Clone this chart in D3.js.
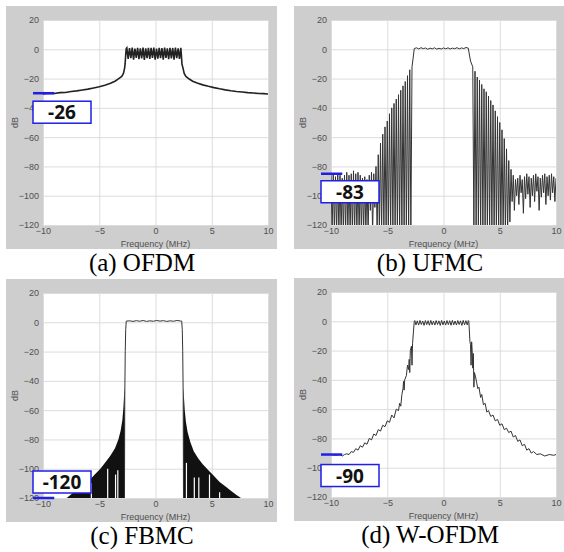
<!DOCTYPE html>
<html>
<head>
<meta charset="utf-8">
<script src="https://cdn.jsdelivr.net/npm/d3@7/dist/d3.min.js"></script>
<style>
body{margin:0;background:#fff;}
.axis text{font-family:Arial,"Liberation Sans",sans-serif;font-size:9px;fill:#505050;}
.axis .domain{display:none;}
.axis line{stroke:#dcdcdc;}
.lbl{font-family:Arial,"Liberation Sans",sans-serif;font-size:9px;fill:#505050;}
.cap{font-family:"Liberation Serif","Times New Roman",serif;font-size:25px;fill:#000;}
.mark{font-family:"Noto Sans","Open Sans",sans-serif;font-size:19px;font-weight:bold;fill:#111;}
</style>
</head>
<body>
<svg id="myGraph" width="564" height="552"></svg>
<script>
// axis ticks
var xTicks = [-10, -5, 0, 5, 10];
var yTicks = [20, 0, -20, -40, -60, -80, -100, -120];
var captions = ["(a) OFDM", "(b) UFMC", "(c) FBMC", "(d) W-OFDM"];
var markLabels = ["-26", "-83", "-120", "-90"];
var markLevels = [-30, -85, -120, -91];

// (a) OFDM spectrum [MHz, dB]
var ofdmSpec = [
	[-10,-30.5],[-9.5,-30],[-9,-30.2],[-8.5,-29.6],[-8,-29.5],[-7.5,-28.8],[-7,-28.4],[-6.5,-27.8],[-6,-27.2],[-5.5,-26.4],
	[-5,-25.6],[-4.5,-24.5],[-4,-23.2],[-3.6,-21.8],[-3.3,-20.2],[-3,-18.5],[-2.85,-16.5],[-2.75,-13],[-2.7,-10],[-2.65,-4],
	[-2.6,0.5],[-2.55,1],[-2.43,-6.5],[-2.31,0.8],[-2.19,-6],[-2.07,1.2],[-1.95,-7],[-1.83,0.5],[-1.71,-5.8],[-1.59,1],
	[-1.47,-6.8],[-1.35,0.7],[-1.23,-6.2],[-1.11,1.1],[-0.99,-7.2],[-0.87,0.6],[-0.75,-6],[-0.63,1],[-0.51,-6.6],[-0.39,0.9],
	[-0.27,-5.9],[-0.15,1.2],[-0.03,-7],[0.09,0.5],[0.21,-6.4],[0.33,1],[0.45,-6.1],[0.57,0.8],[0.69,-7.1],[0.81,1.1],
	[0.93,-5.8],[1.05,0.6],[1.17,-6.7],[1.29,1],[1.41,-6.2],[1.53,0.9],[1.65,-7],[1.77,1.2],[1.89,-6],[2.01,0.7],
	[2.13,-6.5],[2.25,1],[2.3,-4],[2.35,-10],[2.45,-13],[2.55,-16.5],[2.7,-18.5],[3,-20.3],[3.3,-21.8],[3.7,-23],
	[4.2,-24.3],[4.7,-25.3],[5.2,-26.2],[5.7,-27],[6.2,-27.7],[6.7,-28.3],[7.2,-28.8],[7.7,-29.2],[8.2,-29.6],[8.7,-29.9],
	[9.2,-30.2],[9.6,-30.3],[10,-30.5]
];

// (b) UFMC: lobe peaks and nulls
var ufmcPeaks = [
	[-10,-86],[-9.8,-85],[-9.6,-87],[-9.4,-85],[-9.2,-86],[-9,-88],[-8.8,-86],[-8.6,-84],[-8.4,-86],[-8.2,-85],
	[-8,-83],[-7.8,-85],[-7.6,-84],[-7.4,-86],[-7.2,-88],[-7,-87],[-6.8,-89],[-6.6,-86],[-6.4,-84],[-6.2,-85],
	[-6,-80],[-5.8,-72],[-5.6,-64],[-5.4,-58],[-5.2,-53],[-5,-49],[-4.8,-44],[-4.6,-40],[-4.4,-37],[-4.2,-34],
	[-4,-31],[-3.8,-28],[-3.6,-25],[-3.4,-22],[-3.2,-18],[-3,-14],[-2.8,-12],[-2.7,-6],
	[-2.6,0.5],[-2.4,1],[-2.2,0.2],[-2,1.1],[-1.8,0.4],[-1.6,0.9],[-1.4,0],[-1.2,0.8],[-1,0.3],[-0.8,1],
	[-0.6,0.1],[-0.4,0.7],[-0.2,0.2],[0,0.9],[0.2,0.3],[0.4,1],[0.6,0.2],[0.8,0.8],[1,0.4],[1.2,1.1],
	[1.4,0.3],[1.6,0.9],[1.8,0.5],[2,1.2],[2.2,0.8],[2.4,-8],[2.6,-12],[2.8,-15],[3,-19],[3.2,-21],
	[3.4,-24],[3.6,-27],[3.8,-29],[4,-32],[4.2,-35],[4.4,-38],[4.6,-42],[4.8,-46],[5,-50],[5.2,-55],
	[5.4,-61],[5.6,-68],[5.8,-76],[6,-82],[6.2,-86],[6.4,-89],[6.6,-88],[6.8,-86],[7,-89],[7.2,-87],
	[7.4,-85],[7.6,-87],[7.8,-88],[8,-86],[8.2,-85],[8.4,-87],[8.6,-88],[8.8,-86],[9,-85],[9.2,-87],
	[9.4,-86],[9.6,-85],[9.8,-87],[10,-88]
];
var ufmcNulls = [
	[-9.9,-125],[-9.7,-125],[-9.5,-125],[-9.3,-125],[-9.1,-125],[-8.9,-125],[-8.7,-125],[-8.5,-125],[-8.3,-125],[-8.1,-125],
	[-7.9,-125],[-7.7,-125],[-7.5,-125],[-7.3,-125],[-7.1,-125],[-6.9,-125],[-6.7,-125],[-6.5,-110],[-6.3,-125],[-6.1,-108],
	[-5.9,-125],[-5.7,-125],[-5.5,-125],[-5.3,-125],[-5.1,-125],[-4.9,-125],[-4.7,-125],[-4.5,-125],[-4.3,-125],[-4.1,-125],
	[-3.9,-125],[-3.7,-125],[-3.5,-125],[-3.3,-125],[-3.1,-125],[-2.9,-125],
	[2.7,-125],[2.9,-125],[3.1,-125],[3.3,-125],[3.5,-125],[3.7,-125],[3.9,-125],[4.1,-125],[4.3,-125],[4.5,-125],
	[4.7,-125],[4.9,-125],[5.1,-125],[5.3,-125],[5.5,-125],[5.7,-125],[5.9,-118],[6.1,-104],[6.3,-110],[6.5,-100],
	[6.7,-106],[6.9,-98],[7.1,-112],[7.3,-102],[7.5,-99],[7.7,-108],[7.9,-100],[8.1,-104],[8.3,-97],[8.5,-110],
	[8.7,-101],[8.9,-98],[9.1,-106],[9.3,-100],[9.5,-103],[9.7,-98],[9.9,-104]
];

// (c) FBMC: main lobe and dense side lobe envelopes
var fbmcMain = [
	[-2.76,-125],[-2.73,-50],[-2.69,-20],[-2.65,-5],[-2.6,0.8],[-2.3,1],[-2,0.6],[-1.7,1.1],[-1.4,0.7],[-1.1,1.2],
	[-0.8,0.6],[-0.5,1],[-0.2,0.7],[0.1,1.2],[0.4,0.8],[0.7,1.1],[1,0.6],[1.3,1],[1.6,0.7],[1.9,1.2],
	[2.2,0.9],[2.33,0.8],[2.38,-5],[2.42,-20],[2.46,-50],[2.49,-125]
];
var fbmcLeft = [
	[-7.9,-120],[-7.4,-117],[-6.9,-114],[-6.4,-111],[-5.9,-108],[-5.4,-104],[-4.9,-100],[-4.4,-95],[-4,-91],[-3.6,-86],
	[-3.3,-80],[-3.1,-74],[-2.95,-67],[-2.85,-58],[-2.78,-48],[-2.74,-45]
];
var fbmcRight = [
	[2.47,-45],[2.52,-50],[2.6,-60],[2.7,-68],[2.85,-75],[3.1,-82],[3.4,-88],[3.8,-93],[4.2,-97],[4.7,-101],
	[5.2,-105],[5.7,-109],[6.2,-112],[6.7,-115],[7.2,-118],[7.6,-120]
];
var fbmcGaps = [
	[-5.7,-110],[-4.25,-100],[-3.55,-104],[-3.35,-101],[2.75,-96],[3.45,-106],[3.85,-106],[4.8,-104],[5.7,-116]
];

// (d) W-OFDM spectrum
var wofdmSpec = [
	[-10,-91],[-9.6,-91.5],[-9.2,-91],[-9,-92],[-8.8,-91],[-8.6,-90.5],[-8.4,-91],[-8.2,-89],[-8,-89.5],[-7.8,-87],
	[-7.6,-88],[-7.4,-85],[-7.2,-86],[-7,-83],[-6.8,-84],[-6.6,-80],[-6.4,-81],[-6.2,-77],[-6,-78],[-5.8,-74],
	[-5.6,-75],[-5.4,-71],[-5.2,-72],[-5,-68],[-4.8,-69],[-4.6,-64],[-4.4,-66],[-4.2,-60],[-4,-61],[-3.9,-56],
	[-3.8,-58],[-3.7,-50],[-3.6,-46],[-3.55,-41],[-3.5,-47],[-3.45,-40],[-3.3,-37],[-3.2,-30],[-3.1,-33],[-3.05,-26],
	[-3,-35],[-2.95,-20],[-2.85,-17],[-2.8,-30],[-2.75,-15],[-2.6,0],
	[-2.55,0.5],[-2.45,-2.5],[-2.33,0.3],[-2.21,-2.6],[-2.09,0.6],[-1.97,-2.2],[-1.85,0.2],[-1.73,-2.8],[-1.61,0.5],[-1.49,-2.3],
	[-1.37,0.4],[-1.25,-2.7],[-1.13,0.6],[-1.01,-2.4],[-0.89,0.1],[-0.77,-2.6],[-0.65,0.5],[-0.53,-2.2],[-0.41,0.3],[-0.29,-2.8],
	[-0.17,0.6],[-0.05,-2.4],[0.07,0.2],[0.19,-2.6],[0.31,0.5],[0.43,-2.3],[0.55,0.4],[0.67,-2.7],[0.79,0.6],[0.91,-2.4],
	[1.03,0.2],[1.15,-2.6],[1.27,0.5],[1.39,-2.2],[1.51,0.3],[1.63,-2.8],[1.75,0.6],[1.87,-2.4],[1.99,0.4],[2.11,-2.5],
	[2.2,0.5],[2.25,0],[2.35,-14],[2.4,-16],[2.45,-30],[2.5,-14],[2.55,-20],[2.6,-32],[2.65,-22],[2.7,-45],
	[2.75,-35],[2.85,-38],[2.95,-42],[3.05,-46],[3.15,-45],[3.3,-52],[3.4,-50],[3.55,-57],[3.7,-56],[3.85,-62],
	[4,-61],[4.2,-65],[4.4,-64],[4.6,-68],[4.8,-67],[5,-71],[5.2,-70],[5.4,-74],[5.6,-73],[5.8,-76],
	[6,-75],[6.2,-79],[6.4,-78],[6.6,-82],[6.8,-81],[7,-85],[7.2,-84],[7.4,-88],[7.6,-87],[7.8,-90],
	[8,-89],[8.3,-91],[8.6,-90.5],[9,-92],[9.4,-91],[9.8,-91.5],[10,-91]
];

// panel layout (plot area left/top)
var plotW = 225, plotH = 205;
var panels = [
	{ x: 43, y: 20, box: 8 },
	{ x: 331, y: 20, box: 7 },
	{ x: 43, y: 293, box: -27 },
	{ x: 331, y: 292, box: 10 }
];

var svg = d3.select("#myGraph");

function drawPanel(i){
	var p = panels[i];
	var g = svg.append("g").attr("transform", "translate(" + p.x + "," + p.y + ")");

	var xScale = d3.scaleLinear().domain([-10, 10]).range([0, plotW]);
	var yScale = d3.scaleLinear().domain([-120, 20]).range([plotH, 0]);

	// grey frame and white plot
	g.append("rect").attr("x", -37).attr("y", -14).attr("width", plotW + 46).attr("height", plotH + 38).attr("fill", "#cecece");
	g.append("rect").attr("width", plotW).attr("height", plotH).attr("fill", "#fff");

	// grid + tick labels
	g.append("g").attr("class", "axis")
		.call(d3.axisLeft(yScale).tickValues(yTicks).tickSize(-plotW).tickPadding(4));
	g.append("g").attr("class", "axis")
		.attr("transform", "translate(0," + plotH + ")")
		.call(d3.axisBottom(xScale).tickValues(xTicks).tickSize(-plotH).tickPadding(3));

	g.append("text").attr("class", "lbl").attr("text-anchor", "middle")
		.attr("transform", "translate(-25," + (plotH / 2) + ") rotate(-90)").text("dB");
	g.append("text").attr("class", "lbl").attr("text-anchor", "middle")
		.attr("x", plotW / 2).attr("y", plotH + 22).text("Frequency (MHz)");

	var clipId = "clip" + i;
	g.append("clipPath").attr("id", clipId).append("rect").attr("width", plotW).attr("height", plotH);
	var plot = g.append("g").attr("clip-path", "url(#" + clipId + ")");

	var line = d3.line()
		.x(function(d){ return xScale(d[0]); })
		.y(function(d){ return yScale(d[1]); });

	if(i == 0){
		plot.append("path").attr("d", line(ofdmSpec))
			.attr("fill", "none").attr("stroke", "#222").attr("stroke-width", 1.6);
	}
	if(i == 1){
		var merged = ufmcPeaks.concat(ufmcNulls).sort(function(a, b){ return a[0] - b[0]; });
		plot.append("path").attr("d", line(merged))
			.attr("fill", "none").attr("stroke", "#333").attr("stroke-width", 1);
	}
	if(i == 2){
		var area = d3.area()
			.x(function(d){ return xScale(d[0]); })
			.y0(plotH + 5)
			.y1(function(d){ return yScale(d[1]); });
		plot.append("path").attr("d", area(fbmcLeft)).attr("fill", "#111");
		plot.append("path").attr("d", area(fbmcRight)).attr("fill", "#111");
		plot.selectAll("line.gap").data(fbmcGaps).enter().append("line")
			.attr("class", "gap")
			.attr("x1", function(d){ return xScale(d[0]); })
			.attr("x2", function(d){ return xScale(d[0]); })
			.attr("y1", function(d){ return yScale(d[1]); })
			.attr("y2", plotH + 5)
			.attr("stroke", "#fff").attr("stroke-width", 1.2);
		plot.append("path").attr("d", line(fbmcMain))
			.attr("fill", "none").attr("stroke", "#333").attr("stroke-width", 1);
	}
	if(i == 3){
		plot.append("path").attr("d", line(wofdmSpec))
			.attr("fill", "none").attr("stroke", "#333").attr("stroke-width", 1);
	}

	// blue marker
	var ly = yScale(markLevels[i]);
	g.append("line").attr("x1", -10).attr("x2", xScale(-9)).attr("y1", ly).attr("y2", ly)
		.attr("stroke", "#1f1fe6").attr("stroke-width", 2.5);
	g.append("rect").attr("x", -10).attr("y", ly + p.box).attr("width", 58).attr("height", 22)
		.attr("fill", "#fff").attr("stroke", "#1f1fe6").attr("stroke-width", 1.5);
	g.append("text").attr("class", "mark").attr("text-anchor", "middle")
		.attr("x", 19).attr("y", ly + p.box + 18).text(markLabels[i]);

	g.append("text").attr("class", "cap").attr("text-anchor", "middle")
		.attr("x", 99).attr("y", plotH + 46).text(captions[i]);
}

for(var i = 0; i < panels.length; i++){
	drawPanel(i);
}
</script>
</body>
</html>
